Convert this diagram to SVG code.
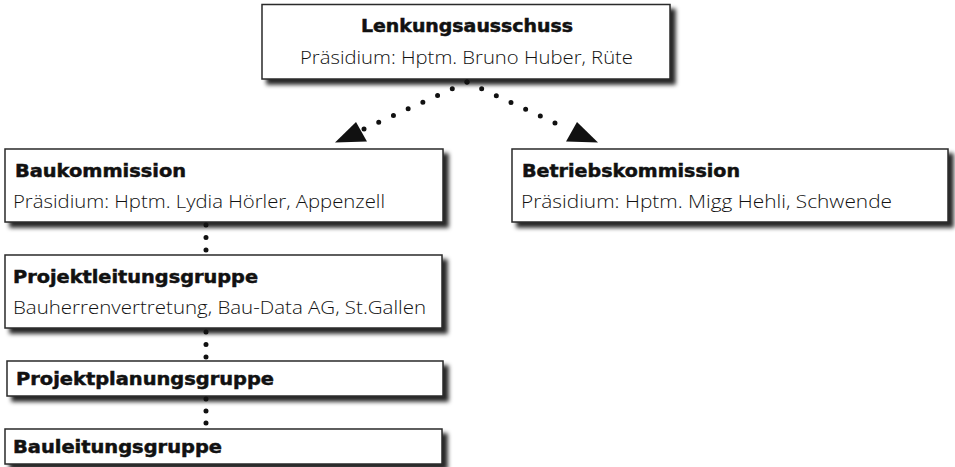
<svg xmlns="http://www.w3.org/2000/svg" width="955" height="467" viewBox="0 0 955 467">
  <defs>
    <filter id="shadow" x="-5%" y="-20%" width="115%" height="150%">
      <feDropShadow dx="5" dy="5" stdDeviation="2" flood-color="#000" flood-opacity="0.85"/>
    </filter>
    <style>
      .box { fill: #ffffff; stroke: #2a2a2a; stroke-width: 1.5; filter: url(#shadow); }
      .title { font-family: "DejaVu Sans", "Liberation Sans", sans-serif; font-weight: bold; font-size: 17.5px; fill: #111; stroke: #111; stroke-width: 0.5; }
      .sub { font-family: "Open Sans", "Liberation Sans", sans-serif; font-weight: 300; font-size: 18px; fill: #111; }
      .dots { fill: none; stroke: #111; stroke-width: 5; stroke-linecap: round; }
      .head { fill: #111; }
    </style>
  </defs>
  <rect width="955" height="467" fill="#ffffff"/>

  <g id="lenkungsausschuss">
    <rect class="box" x="262" y="4.5" width="408" height="74.5"/>
    <text class="title" x="361" y="32" textLength="212" lengthAdjust="spacingAndGlyphs">Lenkungsausschuss</text>
    <text class="sub" x="300" y="64" textLength="333" lengthAdjust="spacingAndGlyphs">Präsidium: Hptm. Bruno Huber, Rüte</text>
  </g>

  <g id="baukommission">
    <rect class="box" x="5" y="149" width="438" height="73"/>
    <text class="title" x="15" y="177" textLength="171" lengthAdjust="spacingAndGlyphs">Baukommission</text>
    <text class="sub" x="13" y="208" textLength="372" lengthAdjust="spacingAndGlyphs">Präsidium: Hptm. Lydia Hörler, Appenzell</text>
  </g>

  <g id="betriebskommission">
    <rect class="box" x="512" y="149" width="436" height="73"/>
    <text class="title" x="522" y="177" textLength="218" lengthAdjust="spacingAndGlyphs">Betriebskommission</text>
    <text class="sub" x="521" y="208" textLength="371" lengthAdjust="spacingAndGlyphs">Präsidium: Hptm. Migg Hehli, Schwende</text>
  </g>

  <g id="projektleitungsgruppe">
    <rect class="box" x="5" y="255" width="437" height="73"/>
    <text class="title" x="13" y="283" textLength="245" lengthAdjust="spacingAndGlyphs">Projektleitungsgruppe</text>
    <text class="sub" x="13" y="314" textLength="413" lengthAdjust="spacingAndGlyphs">Bauherrenvertretung, Bau-Data AG, St.Gallen</text>
  </g>

  <g id="projektplanungsgruppe">
    <rect class="box" x="7" y="361" width="436" height="35"/>
    <text class="title" x="16" y="385" textLength="258" lengthAdjust="spacingAndGlyphs">Projektplanungsgruppe</text>
  </g>

  <g id="bauleitungsgruppe">
    <rect class="box" x="5" y="429" width="437" height="35"/>
    <text class="title" x="13" y="453" textLength="209" lengthAdjust="spacingAndGlyphs">Bauleitungsgruppe</text>
  </g>

  <g id="connectors">
    <path class="dots" d="M467,82 L363.5,129.2" stroke-dasharray="0 16.17"/>
    <polygon class="head" points="335,142.5 356,122 367,141.5"/>
    <path class="dots" d="M467,82 L568.5,129.2" stroke-dasharray="0 16.17"/>
    <polygon class="head" points="598,142.5 577,122 566,141.5"/>
    <path class="dots" d="M206,225 V250.5" stroke-dasharray="0 12.5"/>
    <path class="dots" d="M206,332 V357.5" stroke-dasharray="0 12.5"/>
    <path class="dots" d="M206,399 V423.5" stroke-dasharray="0 12"/>
  </g>
</svg>
